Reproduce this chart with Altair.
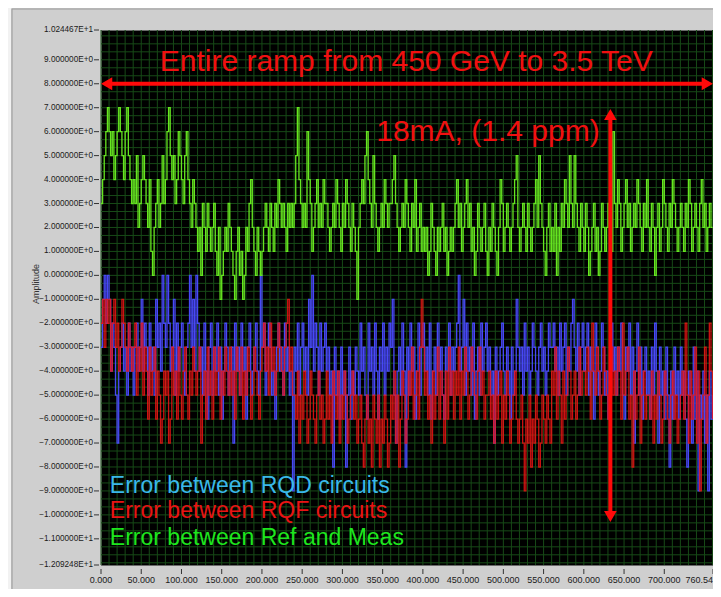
import altair as alt
import pandas as pd

# ---------------- data ----------------
sample_step = 2.0  # x spacing between samples

green_vals = [
    3, 4, 5, 6, 7, 6, 5, 6, 4, 5, 6, 7, 6, 5, 4, 6, 7, 5, 4, 3,
    4, 3, 5, 2, 3, 4, 5, 4, 3, 2, 4, 1, 0, 2, 3, 4, 2, 3, 5, 3,
    4, 6, 7, 5, 4, 5, 3, 4, 6, 5, 4, 3, 5, 6, 4, 3, 2, 4, 3, 2,
    1, 2, 0, 3, 2, 1, 3, 2, 1, 2, 3, 1, 0, 2, -1, 0, 1, 2, 1, 3,
    2, 1, 0, -1, 1, 2, 0, 1, -1, 0, 2, 1, 3, 4, 2, 1, 0, 2, 1, 0,
    1, 2, 3, 2, 1, 3, 2, 1, 3, 2, 4, 3, 2, 3, 2, 1, 3, 2, 3, 2,
    3, 5, 7, 4, 3, 2, 3, 2, 6, 4, 3, 1, 2, 3, 4, 2, 3, 2, 4, 3,
    3, 2, 1, 2, 3, 2, 4, 3, 2, 1, 3, 2, 4, 3, 2, 1, 3, 2, 1, -1,
    2, 3, 4, 3, 5, 6, 4, 3, 2, 5, 3, 2, 1, 2, 3, 2, 4, 3, 2, 3,
    3, 4, 5, 3, 2, 1, 2, 3, 2, 4, 3, 2, 1, 3, 2, 4, 1, 2, 3, 1,
    2, 1, 2, 0, 1, 3, 2, 1, 0, 2, 1, 2, 3, 1, 2, 0, 1, 2, 1, 2,
    3, 4, 2, 3, 1, 2, 3, 4, 2, 3, 1, 2, 0, 1, 3, 2, 1, 2, 3, 1,
    0, 2, 1, 3, 2, 1, 0, 2, 4, 3, 1, 2, 3, 2, 1, 2, 3, 4, 5, 2,
    1, 2, 3, 2, 1, 3, 2, 1, 2, 3, 4, 2, 5, 3, 2, 1, 0, 2, 3, 1,
    2, 1, 3, 0, 2, 1, 3, 2, 4, 3, 2, 5, 3, 2, 5, 3, 2, 1, 3, 2,
    1, 3, 2, 0, 1, 2, 3, 1, 2, 0, 1, 3, 2, 1, 2, 3, 2, 1, 6, 3,
    2, 4, 3, 1, 2, 3, 4, 2, 3, 1, 2, 3, 2, 4, 3, 2, 1, 3, 2, 4,
    2, 1, 3, 2, 0, 2, 3, 1, 2, 4, 3, 2, 1, 3, 2, 4, 3, 2, 1, 2,
    3, 2, 1, 3, 2, 4, 3, 1, 2, 3, 2, 1, 3, 4, 2, 3, 1, 2, 3, 2,
    2,
]

blue_vals = [
    -3, -1, 0, -2, 0, -1, -4, -2, -3, -5, -7, -4, -3, -2, -4, -3, -5, -2, -4, -3,
    -5, -3, -2, -4, -3, -1, -4, -2, -3, -5, -2, -4, -3, -5, -1, -3, -2, -4, 0, -2,
    -3, 0, -2, -4, -3, -1, -5, -2, -4, -3, -2, -4, -5, -3, -2, 0, -3, -1, -4, 0,
    -2, -4, -3, -5, -2, -4, -6, -3, -2, -5, -3, -4, -2, -5, -3, -6, -4, -2, -3, -5,
    -4, -3, -7, -2, -4, -3, -5, -2, -4, -3, -6, -3, -2, -5, -4, -3, -2, -4, -5, 0,
    -3, -2, -5, -4, -2, -3, -5, -4, -6, -3, -2, -4, -3, -5, -2, -4, -3, -5, -4, -9,
    -3, -4, -2, -5, -3, -2, -4, -3, -5, -1, -3, 0, -4, -2, -3, -5, -2, -4, -3, -2,
    -4, -3, -5, -4, -8, -3, -5, -4, -6, -3, -5, -4, -8, -5, -3, -6, -4, -5, -3, -4,
    -5, -2, -4, -3, -5, -6, -2, -4, -3, -5, -2, -4, -6, -3, -4, -2, -5, -3, -4, -2,
    -3, -1, -5, -7, -4, -3, -5, -2, -4, -8, -3, -5, -2, -4, -3, -6, -4, -2, -5, -3,
    -2, -4, -3, -5, -2, -6, -4, -3, -5, -2, -4, -3, -5, -6, -3, -4, -2, -5, -3, -4,
    -3, -2, 0, -4, -3, -1, -5, -2, -4, -3, -5, -2, -6, -4, -3, -5, -2, -4, -3, -2,
    -4, -3, -5, -4, -7, -3, -5, -4, -3, -2, -4, -5, -3, -4, -6, -3, -5, -4, -1, -3,
    -4, -3, -5, -2, -4, -3, -5, -4, -2, -3, -4, -5, -3, -2, -4, -3, -5, -4, -2, -3,
    -3, -2, -4, -3, -5, -2, -4, -3, -2, -5, -3, -4, -2, -1, -3, -4, -2, -5, -3, -2,
    -4, -3, -2, -5, -3, -4, -6, -2, -3, -5, -4, -2, -3, -5, -4, -6, -3, -2, -4, -3,
    -5, -3, -4, -2, -5, -6, -3, -4, -2, -5, -3, -7, -4, -2, -5, -3, -6, -4, -3, -5,
    -4, -6, -3, -5, -2, -4, -7, -3, -5, -4, -6, -3, -5, -8, -4, -6, -3, -5, -4, -6,
    -3, -5, -4, -6, -8, -4, -5, -7, -3, -6, -4, -9, -5, -6, -4, -7, -5, -9, -4, -6,
    -5,
]

red_vals = [
    -2, -1, -3, -1, -2, -1, -4, -2, -1, -3, -2, -4, -3, -1, -2, -3, -4, -2, -3, -4,
    -3, -2, -5, -3, -4, -2, -5, -3, -4, -6, -3, -5, -4, -3, -6, -4, -5, -7, -6, -4,
    -5, -4, -7, -6, -3, -5, -4, -6, -3, -5, -6, -4, -3, -5, -6, -4, -5, -3, -4, -5,
    -4, -3, -7, -5, -4, -6, -3, -5, -4, -6, -3, -5, -4, -3, -6, -4, -5, -3, -4, -5,
    -3, -5, -4, -6, -3, -4, -5, -3, -6, -4, -5, -3, -4, -6, -5, -3, -4, -5, -6, -4,
    -3, -2, -4, -3, -5, -2, -4, -3, -5, -4, -2, -3, -4, -5, -3, -2, -1, -4, -3, -5,
    -5, -6, -4, -7, -5, -6, -4, -5, -7, -6, -4, -5, -6, -7, -5, -4, -6, -5, -7, -6,
    -4, -6, -5, -7, -4, -5, -6, -4, -7, -5, -6, -4, -5, -7, -6, -5, -4, -6, -5, -7,
    -6, -5, -7, -8, -6, -5, -7, -6, -8, -5, -6, -7, -5, -8, -6, -7, -5, -6, -8, -7,
    -5, -6, -4, -7, -5, -8, -6, -4, -5, -7, -6, -4, -5, -3, -6, -5, -4, -6, -3, -1,
    -3, -5, -4, -6, -5, -7, -4, -6, -5, -3, -6, -4, -5, -7, -4, -6, -3, -5, -4, -6,
    -4, -5, -3, -6, -4, -5, -3, -4, -6, -5, -3, -4, -5, -6, -4, -3, -5, -4, -6, -5,
    -5, -4, -6, -5, -7, -4, -6, -5, -4, -7, -5, -6, -4, -5, -7, -6, -5, -4, -6, -7,
    -6, -5, -7, -9, -6, -7, -5, -8, -6, -7, -5, -6, -8, -7, -5, -6, -7, -5, -6, -7,
    -4, -5, -3, -6, -4, -5, -7, -4, -6, -5, -3, -4, -6, -5, -4, -6, -5, -3, -5, -4,
    -4, -5, -3, -4, -6, -2, -4, -5, -3, -4, -6, -5, -3, -4, -5, -6, -4, -3, -5, -4,
    -5, -3, -4, -6, -2, -5, -4, -3, -6, -5, -8, -4, -6, -5, -3, -7, -5, -4, -6, -5,
    -5, -6, -4, -7, -5, -6, -4, -5, -7, -6, -4, -5, -6, -7, -5, -4, -6, -5, -7, -6,
    -5, -4, -6, -2, -5, -7, -4, -6, -5, -3, -7, -4, -9, -6, -5, -3, -7, -5, -2, -4,
    -6,
]

x_ticks = [0, 50, 100, 150, 200, 250, 300, 350, 400, 450, 500, 550,
           600, 650, 700, 760.54]
x_tick_labels = ["0.000", "50.000", "100.000", "150.000", "200.000", "250.000",
                 "300.000", "350.000", "400.000", "450.000", "500.000", "550.000",
                 "600.000", "650.000", "700.000", "760.54"]
y_ticks = [-12.09248, -11, -10, -9, -8, -7, -6, -5, -4, -3, -2, -1, 0,
           1, 2, 3, 4, 5, 6, 7, 8, 9, 10.24467]
y_title = "Amplitude"

label_texts = ["Entire ramp from 450 GeV to 3.5 TeV", "18mA, (1.4 ppm)",
               "Error between RQD circuits", "Error between RQF circuits",
               "Error between Ref and Meas"]
label_x = [73, 342, 11, 11, 11]
label_y = [8.9, 5.98, -8.78, -9.84, -10.98]
label_colors = ["#f01010", "#f01010", "#3ab8ea", "#e81414", "#1ee61e"]
label_sizes = [30, 30, 23, 23, 23]

# arrows
h_shaft = {"x1": [7], "x2": [753], "y": [8]}
h_heads = {"x": [7.0, 753.5], "y": [8, 8], "shape": ["triangle-left", "triangle-right"]}
v_shaft = {"x": [633], "y1": [6.6], "y2": [-9.95]}
v_heads = {"x": [633, 633], "y": [6.72, -10.07], "shape": ["triangle-up", "triangle-down"]}

# ---------------- build ----------------
def series_df(vals):
    return pd.DataFrame({"x": [i * sample_step for i in range(len(vals))], "v": vals})

SANS = "Liberation Sans, Arial, Helvetica, sans-serif"
W, H = 612, 535

xs = alt.Scale(domain=[0, 760.54], nice=False, zero=False)
ys = alt.Scale(domain=[-12.09248, 10.24467], nice=False, zero=False)

def X(f):
    return alt.X(f, scale=xs, axis=None)

def Y(f):
    return alt.Y(f, scale=ys, axis=None)

GRID = "#174a17"

vgrid = alt.Chart(alt.sequence(0, 761, 10, as_="gx")).mark_rule(
    color=GRID, strokeWidth=1).encode(x=X("gx:Q"))
hgrid = alt.Chart(alt.sequence(-36, 31, 1, as_="k")).transform_calculate(
    gy="datum.k / 3").mark_rule(color=GRID, strokeWidth=1).encode(y=Y("gy:Q"))

# hand-drawn axes (LabVIEW style)
ydf = pd.DataFrame({"v": y_ticks})
y_labels = alt.Chart(ydf).transform_calculate(
    lab="upper(format(datum.v, '.6e'))").mark_text(
    align="right", baseline="middle", font=SANS, fontSize=8.2, color="#1a1a1a").encode(
    y=Y("v:Q"), x=alt.value(-8), text="lab:N")
y_tickmarks = alt.Chart(ydf).mark_rule(color="#333333", strokeWidth=1).encode(
    y=Y("v:Q"), x=alt.value(-7), x2=alt.value(-2))
xdf = pd.DataFrame({"v": x_ticks, "lab": x_tick_labels})
x_labels = alt.Chart(xdf).transform_filter("datum.v < 760").mark_text(
    align="center", baseline="top", font=SANS, fontSize=9, color="#1a1a1a").encode(
    x=X("v:Q"), y=alt.value(H + 11), text="lab:N")
x_label_last = alt.Chart(xdf).transform_filter("datum.v > 760").mark_text(
    align="right", baseline="top", font=SANS, fontSize=9, color="#1a1a1a").encode(
    x=X("v:Q"), y=alt.value(H + 11), text="lab:N")
x_tickmarks = alt.Chart(xdf).mark_rule(color="#333333", strokeWidth=1).encode(
    x=X("v:Q"), y=alt.value(H + 4), y2=alt.value(H + 9))
y_title_mark = alt.Chart(pd.DataFrame({"t": [y_title]})).mark_text(
    angle=270, align="center", baseline="middle", font=SANS, fontSize=9,
    color="#333333").encode(text="t:N", x=alt.value(-65), y=alt.value(254))

blue = alt.Chart(series_df(blue_vals)).mark_line(
    interpolate="step-after", color="#4848f8", strokeWidth=1.3, clip=True).encode(
    x=X("x:Q"), y=Y("v:Q"))
red = alt.Chart(series_df(red_vals)).mark_line(
    interpolate="step-after", color="#f01414", strokeWidth=1.3, opacity=0.85, clip=True).encode(
    x=X("x:Q"), y=Y("v:Q"))
green = alt.Chart(series_df(green_vals)).mark_line(
    interpolate="step-after", color="#66e620", strokeWidth=1.3, clip=True).encode(
    x=X("x:Q"), y=Y("v:Q"))

texts = alt.Chart(pd.DataFrame({"x": label_x, "y": label_y, "t": label_texts,
                                "c": label_colors, "s": label_sizes})).mark_text(
    align="left", baseline="middle", font=SANS).encode(
    x=X("x:Q"), y=Y("y:Q"),
    text="t:N", color=alt.Color("c:N", scale=None), size=alt.Size("s:Q", scale=None))

AR = "#ff0a0a"
hs = alt.Chart(pd.DataFrame(h_shaft)).mark_rule(color=AR, strokeWidth=4).encode(
    x=X("x1:Q"), x2="x2:Q", y=Y("y:Q"))
hh = alt.Chart(pd.DataFrame(h_heads)).mark_point(filled=True, color=AR, opacity=1,
                                                 size=169, strokeWidth=0).encode(
    x=X("x:Q"), y=Y("y:Q"), shape=alt.Shape("shape:N", scale=None))
vs = alt.Chart(pd.DataFrame(v_shaft)).mark_rule(color=AR, strokeWidth=4).encode(
    x=X("x:Q"), y=Y("y1:Q"), y2="y2:Q")
vh = alt.Chart(pd.DataFrame(v_heads)).mark_point(filled=True, color=AR, opacity=1,
                                                 size=160, strokeWidth=0).encode(
    x=X("x:Q"), y=Y("y:Q"), shape=alt.Shape("shape:N", scale=None))

one = pd.DataFrame({"a": [0]})
frame = alt.Chart(one).mark_rect(fill="transparent", stroke="#9a9a9a", strokeWidth=1).encode(
    x=alt.value(-89), x2=alt.value(614), y=alt.value(-21), y2=alt.value(560))
leftstrip = alt.Chart(one).mark_rect(fill="#f2f2f2").encode(
    x=alt.value(-93), x2=alt.value(-90), y=alt.value(-22), y2=alt.value(560))

chart = alt.layer(
    vgrid, hgrid, leftstrip, frame, y_tickmarks, y_labels, x_tickmarks, x_labels,
    x_label_last, y_title_mark, blue, red, green, texts, hs, hh, vs, vh
).properties(
    width=W, height=H,
    autosize=alt.AutoSizeParams(type="none"),
    padding={"left": 93, "top": 22, "right": 0, "bottom": 24},
    background="#cfcfcf",
).configure_view(fill="#000000", stroke="#6a6a6a", strokeWidth=1)

chart.save("out.html", embed_options={"renderer": "svg", "actions": False})
